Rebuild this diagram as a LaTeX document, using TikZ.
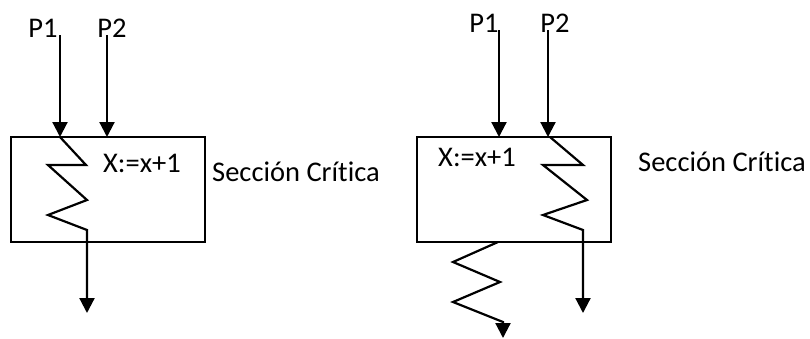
\documentclass[tikz,border=0pt]{standalone}
\usepackage{fontspec}
\setmainfont{Carlito}[Ligatures=CommonOff]
\usetikzlibrary{arrows.meta}
\tikzset{
  csbox/.style={draw, line width=1.8pt, minimum width=194pt, minimum height=105pt, inner sep=0pt},
  lbl/.style={font=\fontsize{28.5}{32}\selectfont, inner sep=0pt},
  flow/.style={line width=2.2pt, -{Triangle[length=15pt,width=15pt]}},
}
\begin{document}
\begin{tikzpicture}[x=1pt, y=-1pt]
\useasboundingbox (0,0) rectangle (810,338);
% left case: P1 inside the critical section
\node[csbox] (boxL) at (108,189.5) {};
\node[lbl] (p1L) at (43,28) {P1};
\node[lbl] (p2L) at (112,28) {P2};
\node[lbl] (codeL) at (142,163) {X:=x+1};
\node[lbl] (secL) at (296,172) {Sección Crítica};
\coordinate (p1Ls) at (60,35);
\coordinate (p1Le) at (60,137);
\coordinate (p2Ls) at (107,35);
\coordinate (p2Le) at (107,137);
\draw[flow] (p1Ls) -- (p1Le);
\draw[flow] (p2Ls) -- (p2Le);
\draw[flow] (p1Le) -- (86,165) -- (48,165) -- (87,200) -- (48,215) -- (87,230) -- (87,313);
% right case: P2 inside, P1 already out
\node[csbox] (boxR) at (514,189.5) {};
\node[lbl] (p1R) at (484,23) {P1};
\node[lbl] (p2R) at (555,23) {P2};
\node[lbl] (codeR) at (477,157) {X:=x+1};
\node[lbl] (secR) at (722,162) {Sección Crítica};
\coordinate (p1Rs) at (499,30);
\coordinate (p1Re) at (499,137);
\coordinate (p2Rs) at (548,30);
\coordinate (p2Re) at (548,137);
\draw[flow] (p1Rs) -- (p1Re);
\draw[flow] (p2Rs) -- (p2Re);
\draw[flow] (550,137) -- (583,165) -- (543,165) -- (587,200) -- (543,215) -- (583,230) -- (583,313);
\draw[flow] (498,242) -- (453,262) -- (500,282) -- (453,302) -- (503,322) -- (503,338);
\end{tikzpicture}
\end{document}
